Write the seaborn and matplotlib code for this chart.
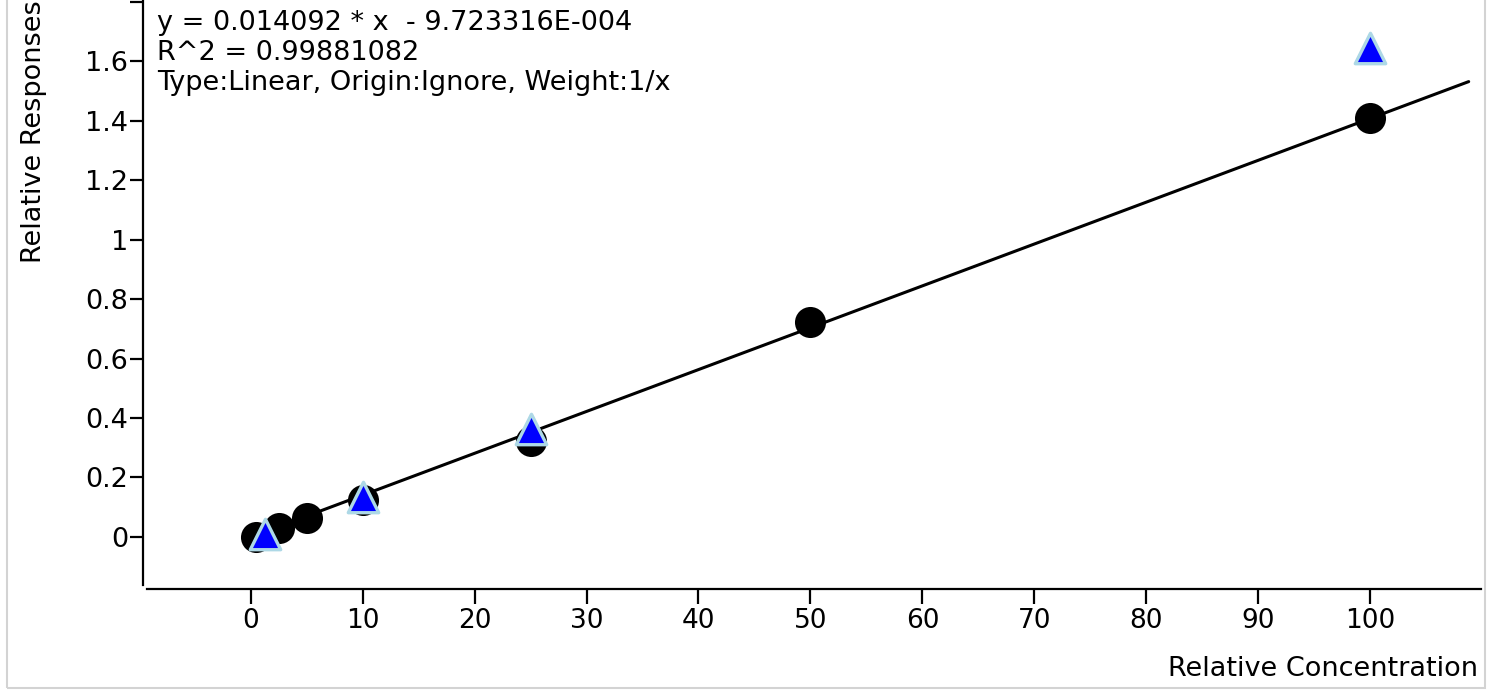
import numpy as np
import pandas as pd
import matplotlib
matplotlib.use('Agg')
import matplotlib.pyplot as plt
import matplotlib.transforms as mtransforms
import seaborn as sns
from matplotlib.patches import Rectangle

# Calibration data
std_conc = [0.5, 2.5, 5, 10, 25, 50, 100]
std_resp = [0.0, 0.029, 0.062, 0.124, 0.322, 0.722, 1.409]
qc_conc = [1.25, 10, 25, 100]
qc_resp = [0.009, 0.135, 0.363, 1.644]

# Fit line: y = 0.014092 * x - 9.723316E-004
slope = 0.014092
intercept = -9.723316e-4
fit_x = [0, 108.8]
fit_y = [slope * v + intercept for v in fit_x]

x_ticks = [0, 10, 20, 30, 40, 50, 60, 70, 80, 90, 100]
y_ticks = [0, 0.2, 0.4, 0.6, 0.8, 1.0, 1.2, 1.4, 1.6, 1.8]
y_tick_labels = ['0', '0.2', '0.4', '0.6', '0.8', '1', '1.2', '1.4', '1.6', '']

eq_lines = ['y = 0.014092 * x  - 9.723316E-004',
            'R^2 = 0.99881082',
            'Type:Linear, Origin:Ignore, Weight:1/x']

sns.set_style('white')
plt.rcParams['font.family'] = ['DejaVu Sans']

W, H = 1499, 690
fig = plt.figure(figsize=(W / 100, H / 100), dpi=100)
ax = fig.add_axes([143 / W, 101 / H, (1481 - 143) / W, 589 / H])

std_df = pd.DataFrame({'conc': std_conc, 'resp': std_resp})
qc_df = pd.DataFrame({'conc': qc_conc, 'resp': qc_resp})
fit_df = pd.DataFrame({'conc': fit_x, 'resp': fit_y})

sns.lineplot(data=fit_df, x='conc', y='resp', color='black', linewidth=2.2, ax=ax, zorder=1)
sns.scatterplot(data=std_df, x='conc', y='resp', color='black', s=500, marker='o',
                edgecolor='black', linewidth=0, ax=ax, zorder=2)
sns.scatterplot(data=qc_df, x='conc', y='resp', color='#0000ff', s=480, marker='^',
                edgecolor='#add8e6', linewidth=2.4, ax=ax, zorder=3)

ax.set_xlim(-9.62, 109.9)
ax.set_ylim(-0.176, 1.807)
ax.set_xticks(x_ticks)
ax.set_xticklabels([str(t) for t in x_ticks])
ax.set_yticks(y_ticks)
ax.set_yticklabels(y_tick_labels)

for side in ['top', 'right']:
    ax.spines[side].set_visible(False)
for side in ['left', 'bottom']:
    ax.spines[side].set_linewidth(1.6)
    ax.spines[side].set_color('black')
ax.spines['left'].set_bounds(-0.163, 1.807)
ax.spines['bottom'].set_bounds(-9.27, 109.9)

ax.tick_params(axis='x', direction='out', length=11, width=1.6, pad=3,
               labelsize=19, colors='black', bottom=True)
ax.tick_params(axis='y', direction='out', length=9.5, width=1.6, pad=1,
               labelsize=19.5, colors='black', left=True)

ax.set_xlabel('Relative Concentration', fontsize=19.5, loc='right', color='black')
ax.xaxis.set_label_coords(0.998, -0.113)
ax.set_ylabel('Relative Responses', fontsize=19.5, loc='top', color='black')
ax.yaxis.set_label_coords(-0.072, 1.0)

# equation block in the upper left (pixel positions from the top)
px = mtransforms.Affine2D().scale(1, -1).translate(0, H)
for i, line in enumerate(eq_lines):
    ax.text(157, 30 + 30 * i, line, fontsize=19.5, color='black', va='baseline', ha='left',
            transform=px)

# light grey frame around the plot area
fig.patches.append(Rectangle((7 / W, 2 / H), (1485 - 7) / W, 1.0, transform=fig.transFigure,
                             fill=False, edgecolor='#d3d3d3', linewidth=1.5, zorder=0))

fig.savefig('out.png', dpi=100, facecolor='white')
